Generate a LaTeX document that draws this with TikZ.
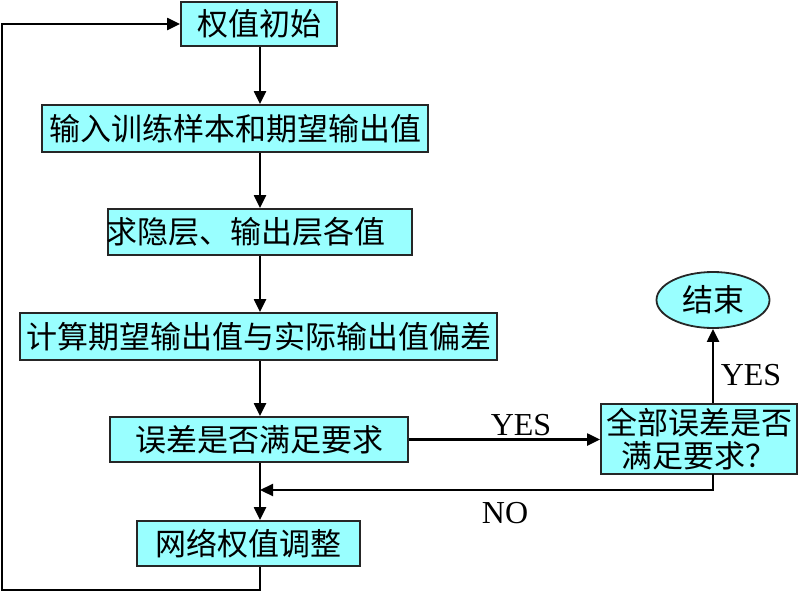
\documentclass[tikz,border=0pt]{standalone}
\usepackage{fontspec}
\setmainfont{Liberation Serif}
\newfontfamily\cjk{Noto Sans CJK SC}
\usetikzlibrary{arrows.meta,shapes.geometric}
\definecolor{boxc}{RGB}{153,255,255}
\begin{document}
\begin{tikzpicture}[x=1pt,y=-1pt,
 box/.style={draw=black!85, line width=1.8pt, fill=boxc, inner sep=0pt, font=\cjk\fontsize{31}{33}\selectfont},
 arr/.style={line width=2.2pt, -{Triangle[length=13pt,width=12pt]}},
 lbl/.style={font=\fontsize{32}{34}\selectfont, inner sep=0pt}]
\useasboundingbox (0,0) rectangle (800,592);
\node[box, minimum width=156, minimum height=44] (b1) at (259,24) {权值初始};
\node[box, minimum width=386, minimum height=47] (b2) at (235,128.5) {输入训练样本和期望输出值};
\node[box, text width=304, align=left, minimum height=46] (b3) at (260,232) {\hspace*{-2pt}求隐层、输出层各值};
\node[box, minimum width=477, minimum height=47] (b4) at (258.5,336.5) {计算期望输出值与实际输出值偏差};
\node[box, minimum width=298, minimum height=45] (b5) at (259,439.5) {误差是否满足要求};
\node[box, minimum width=223, minimum height=45] (b6) at (248.5,543.5) {网络权值调整};
\node[box, minimum width=196, minimum height=70, align=center] (b7) at (699,439) {全部误差是否\\满足要求？};
\node[box, ellipse, minimum width=113, minimum height=56] (end) at (713,300) {结束};
\coordinate (top) at (260,46);
\draw[arr] (b1.south -| top) -- (b2.north -| top);
\draw[arr] (b2.south -| top) -- (b3.north -| top);
\draw[arr] (b3.south -| top) -- (b4.north -| top);
\draw[arr] (b4.south -| top) -- (b5.north -| top);
\draw[arr] (b5.south -| top) -- (b6.north -| top);
\draw[arr] (b5.east) -- (b7.west |- b5.east);
\node[lbl] (yes1) at (521,425) {YES};
\coordinate (b7s) at (713,474);
\coordinate (nocorner) at (713,490);
\coordinate (nojoin) at (260,490);
\draw[arr] (b7s) -- (nocorner) -- (nojoin);
\node[lbl] (no) at (505,513) {NO};
\draw[arr] (b7.north -| end.south) -- (end.south);
\node[lbl] (yes2) at (751,375) {YES};
\coordinate (c1) at (260,590);
\coordinate (c2) at (2,590);
\coordinate (c3) at (2,24);
\draw[arr] (b6.south -| c1) -- (c1) -- (c2) -- (c3) -- (b1.west);
\end{tikzpicture}
\end{document}
